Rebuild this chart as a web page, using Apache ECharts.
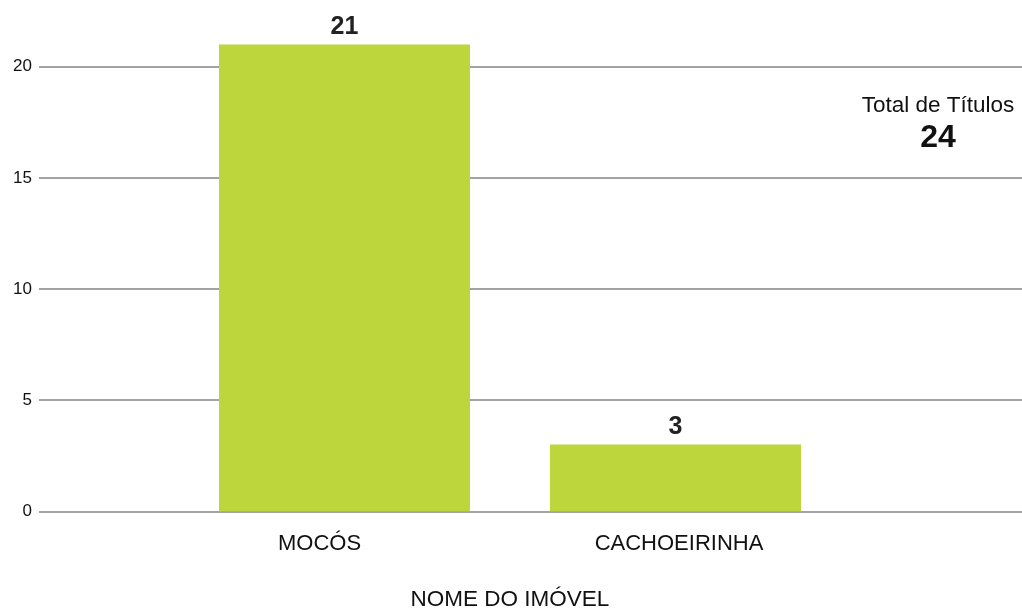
<!DOCTYPE html>
<html><head><meta charset="utf-8">
<script src="https://cdn.jsdelivr.net/npm/echarts@6/dist/echarts.min.js"></script>
<style>html,body{margin:0;padding:0;background:#fff}#c{width:1022px;height:612px}</style>
</head><body><div id="c"></div>
<script>
const categories = ['MOCÓS', 'CACHOEIRINHA'];
const values = [21, 3];
const yTicks = [0, 5, 10, 15, 20];
const totalLabel = 'Total de Títulos';
const totalValue = values.reduce((a, b) => a + b, 0);
const xAxisName = 'NOME DO IMÓVEL';

const font = '"Liberation Sans", Arial, Helvetica, sans-serif';
const chart = echarts.init(document.getElementById('c'), null, {renderer: 'canvas'});
chart.setOption({
  backgroundColor: '#ffffff',
  animation: false,
  title: {
    text: totalLabel,
    subtext: String(totalValue),
    left: 933, top: 89, textAlign: 'center', itemGap: 5,
    textStyle: {fontFamily: font, fontSize: 22.5, fontWeight: 'normal', color: '#111'},
    subtextStyle: {fontFamily: font, fontSize: 32, fontWeight: 'bold', color: '#111'}
  },
  grid: [
    {left: 39, right: 0, top: 66.7, bottom: 612 - 511.3, containLabel: false, outerBoundsMode: 'none'},
    {left: 179, right: 1022 - 841, top: 66.7, bottom: 612 - 511.3, containLabel: false, outerBoundsMode: 'none'}
  ],
  xAxis: [
    {gridIndex: 0, type: 'value', min: 0, max: 1, show: false},
    {gridIndex: 1, type: 'category', data: categories,
      axisLine: {show: false}, axisTick: {show: false},
      axisLabel: {margin: 22, fontFamily: font, fontSize: 22, color: '#111',
        formatter: function (v) { return v === categories[0] ? '{a|' + v + '}' : '{b|' + v + '}'; },
        rich: {a: {fontFamily: font, fontSize: 22, color: '#111', padding: [0, 50, 0, 0]},
               b: {fontFamily: font, fontSize: 22, color: '#111', padding: [0, 0, 0, 7]}}},
      name: xAxisName, nameLocation: 'middle', nameGap: 77,
      nameTextStyle: {fontFamily: font, fontSize: 22.5, color: '#111'}}
  ],
  yAxis: [
    {gridIndex: 0, type: 'value', min: yTicks[0], max: yTicks[yTicks.length - 1], interval: yTicks[1] - yTicks[0],
      axisLine: {show: false}, axisTick: {show: false},
      axisLabel: {margin: 7, fontFamily: font, fontSize: 17, color: '#111'},
      splitLine: {show: true, lineStyle: {color: '#858585', width: 1.6}}},
    {gridIndex: 1, type: 'value', min: yTicks[0], max: yTicks[yTicks.length - 1], show: false, splitLine: {show: false}}
  ],
  series: [{
    type: 'bar', xAxisIndex: 1, yAxisIndex: 1, data: values, barWidth: 251, clip: false,
    itemStyle: {color: '#bcd63b'},
    label: {show: true, position: 'top', distance: 5, fontFamily: font, fontSize: 25, fontWeight: 'bold', color: '#222'}
  }]
});
</script></body></html>
